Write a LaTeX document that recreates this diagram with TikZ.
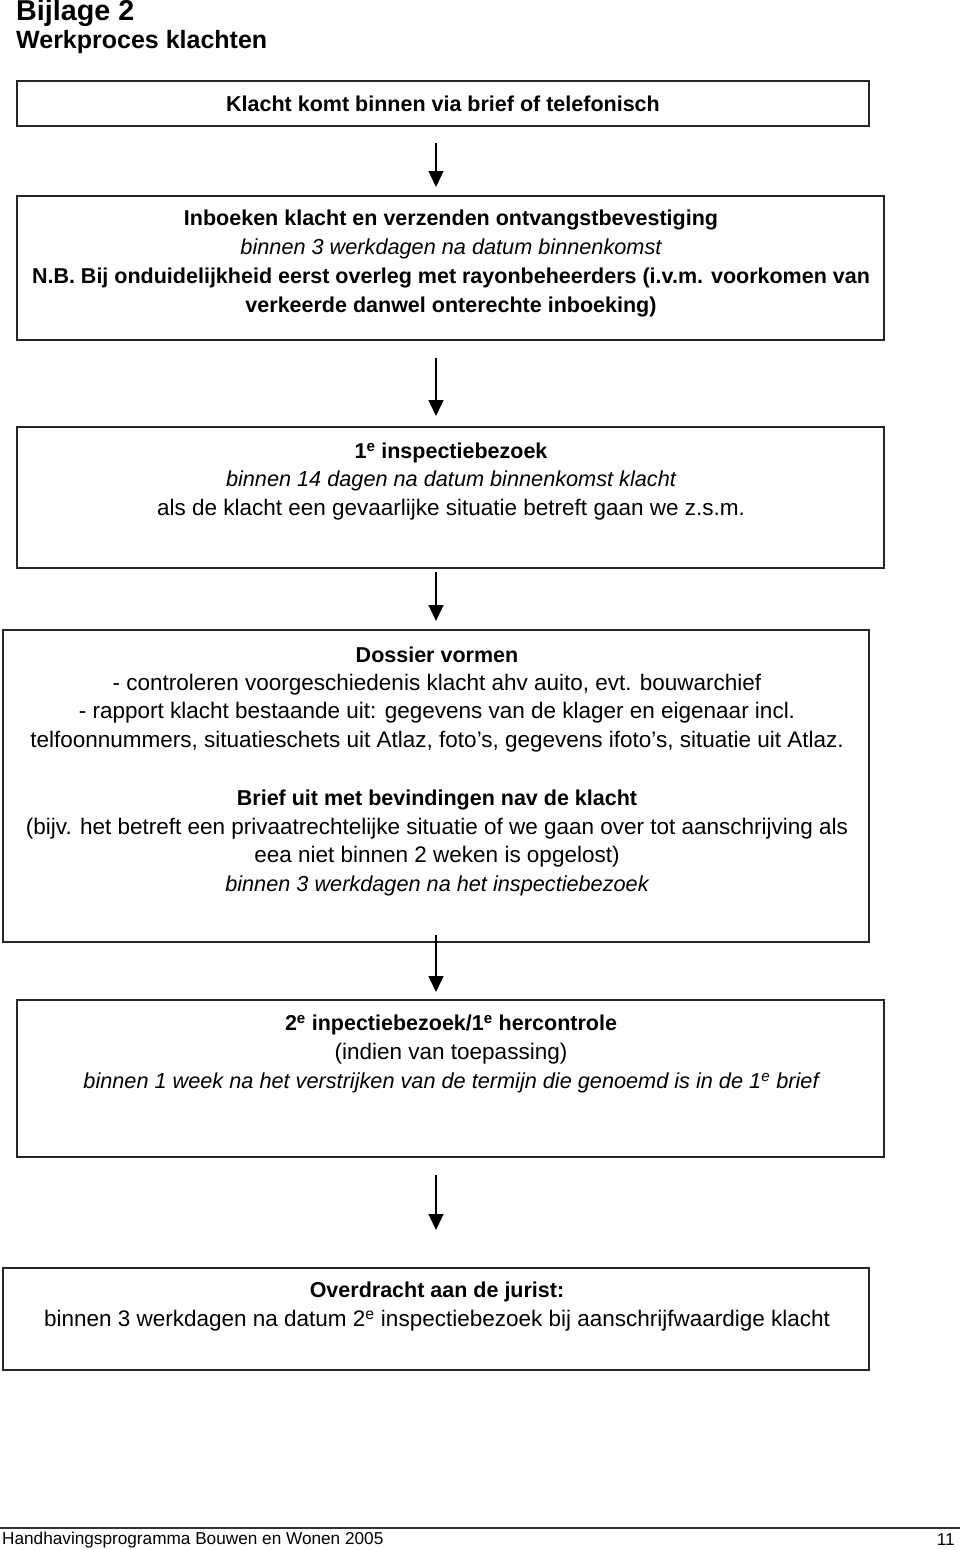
\documentclass[tikz,border=0pt]{standalone}
\usepackage{fontspec}
\setmainfont{Liberation Sans}
\usetikzlibrary{arrows.meta}
\newcommand{\rgf}{\fontsize{22.5}{26}\selectfont}
\newcommand{\bdf}{\fontsize{21.5}{26}\selectfont\bfseries}
\newcommand{\itf}{\fontsize{21.7}{26}\selectfont\itshape}
\tikzset{
  box/.style={draw=black!85, line width=1.6pt, rectangle, inner sep=0pt},
  txt/.style={inner sep=0pt, anchor=center, font=\rgf},
  btxt/.style={inner sep=0pt, anchor=center, font=\bdf},
  itxt/.style={inner sep=0pt, anchor=center, font=\itf},
  flow/.style={-{Triangle[length=16pt,width=15pt]}, line width=1.3pt},
}
\begin{document}
\begin{tikzpicture}[x=1pt,y=-1pt]
\useasboundingbox (0,0) rectangle (960,1550);
% header
\node[anchor=west, inner sep=0pt, font=\fontsize{28.7}{32}\selectfont\bfseries] (t1) at (16,13) {Bijlage 2};
\node[anchor=west, inner sep=0pt, font=\fontsize{25}{28}\selectfont\bfseries] (t2) at (16,42) {Werkproces klachten};
% boxes
\node[box, minimum width=852pt, minimum height=45pt] (b1) at (443,103.5) {};
\node[box, minimum width=867pt, minimum height=144pt] (b2) at (450.5,268) {};
\node[box, minimum width=867pt, minimum height=141pt] (b3) at (450.5,497.5) {};
\node[box, minimum width=866pt, minimum height=312pt] (b4) at (436,786) {};
\node[box, minimum width=867pt, minimum height=157pt] (b5) at (450.5,1078.5) {};
\node[box, minimum width=866pt, minimum height=102pt] (b6) at (436,1319) {};
% texts
\node[btxt] (l1) at (443,104) {Klacht komt binnen via brief of telefonisch};
\node[btxt] (l2a) at (451,220) {Inboeken klacht en verzenden ontvangstbevestiging};
\node[itxt] (l2b) at (451,249) {binnen 3 werkdagen na datum binnenkomst};
\node[btxt] (l2c) at (451,278) {N.B. Bij onduidelijkheid eerst overleg met rayonbeheerders (i.v.m. voorkomen van};
\node[btxt] (l2d) at (451,307) {verkeerde danwel onterechte inboeking)};
\node[btxt] (l3a) at (451,453) {1\textsuperscript{e} inspectiebezoek};
\node[itxt] (l3b) at (451,481) {binnen 14 dagen na datum binnenkomst klacht};
\node[txt] (l3c) at (451,510) {als de klacht een gevaarlijke situatie betreft gaan we z.s.m.};
\node[btxt] (l4a) at (437,655) {Dossier vormen};
\node[txt] (l4b) at (437,685) {- controleren voorgeschiedenis klacht ahv auito, evt. bouwarchief};
\node[txt] (l4c) at (437,713) {- rapport klacht bestaande uit: gegevens van de klager en eigenaar incl.};
\node[txt] (l4d) at (437,742) {telfoonnummers, situatieschets uit Atlaz, foto’s, gegevens ifoto’s, situatie uit Atlaz.};
\node[btxt] (l4e) at (437,800) {Brief uit met bevindingen nav de klacht};
\node[txt] (l4f) at (437,829) {(bijv. het betreft een privaatrechtelijke situatie of we gaan over tot aanschrijving als};
\node[txt] (l4g) at (437,857) {eea niet binnen 2 weken is opgelost)};
\node[itxt] (l4h) at (437,886) {binnen 3 werkdagen na het inspectiebezoek};
\node[btxt] (l5a) at (451,1025) {2\textsuperscript{e} inpectiebezoek/1\textsuperscript{e} hercontrole};
\node[txt] (l5b) at (451,1054) {(indien van toepassing)};
\node[itxt] (l5c) at (451,1083) {binnen 1 week na het verstrijken van de termijn die genoemd is in de 1\textsuperscript{e} brief};
\node[btxt] (l6a) at (437,1292) {Overdracht aan de jurist:};
\node[txt] (l6b) at (437,1321) {binnen 3 werkdagen na datum 2\textsuperscript{e} inspectiebezoek bij aanschrijfwaardige klacht};
% arrows
\coordinate (a1s) at (436,143); \coordinate (a1e) at (436,187);
\coordinate (a2s) at (436,358); \coordinate (a2e) at (436,416);
\coordinate (a3s) at (436,572); \coordinate (a3e) at (436,621);
\coordinate (a4s) at (436,935); \coordinate (a4e) at (436,992);
\coordinate (a5s) at (436,1175); \coordinate (a5e) at (436,1230);
\draw[flow] (a1s) -- (a1e);
\draw[flow] (a2s) -- (a2e);
\draw[flow] (a3s) -- (a3e);
\draw[flow] (a4s) -- (a4e);
\draw[flow] (a5s) -- (a5e);
% footer
\coordinate (fl) at (0,1528); \coordinate (fr) at (960,1528);
\draw[line width=1.6pt, draw=black!80] (fl) -- (fr);
\node[anchor=west, inner sep=0pt, font=\fontsize{17.2}{20}\selectfont] (f1) at (2,1540) {Handhavingsprogramma Bouwen en Wonen 2005};
\node[anchor=east, inner sep=0pt, font=\fontsize{17.2}{20}\selectfont] (f2) at (955,1540) {11};
\end{tikzpicture}
\end{document}
